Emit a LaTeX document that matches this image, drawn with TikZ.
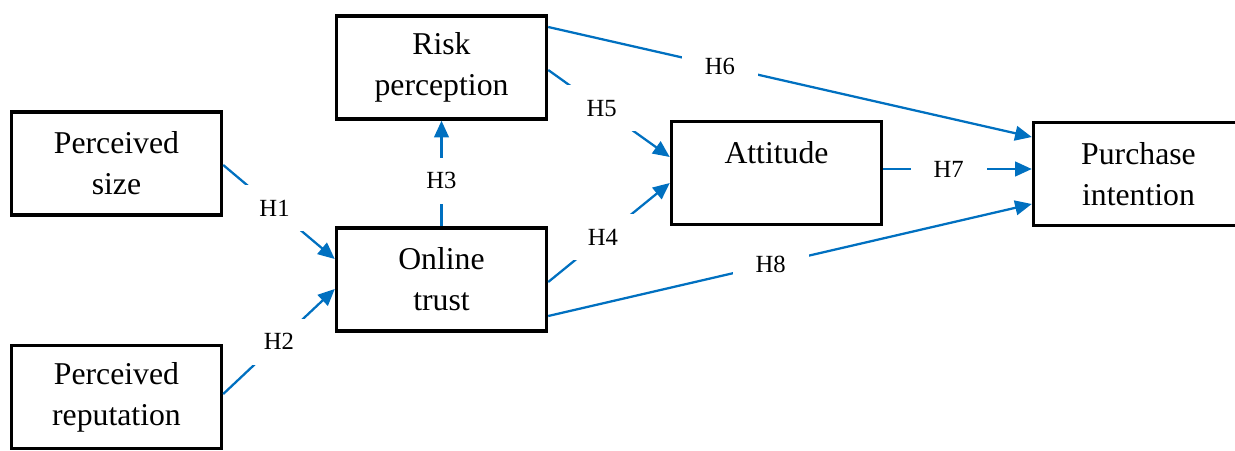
\documentclass[tikz,border=0pt]{standalone}
\usepackage{fontspec}
\setmainfont{Liberation Serif}
\usetikzlibrary{arrows.meta,calc}
\definecolor{linkblue}{RGB}{0,112,192}
\begin{document}
\begin{tikzpicture}[x=0.75pt,y=-0.75pt,
  box/.style={draw=black,line width=2.6pt,minimum width=157.5pt,minimum height=77.25pt,
    inner sep=0pt,align=center,font=\fontsize{23.8pt}{30.75pt}\selectfont},
  link/.style={draw=linkblue,line width=1.7pt,-{Triangle[length=12.5pt,width=11pt]}},
  hyp/.style={fill=white,inner sep=0pt,minimum width=57pt,minimum height=34.5pt,
    font=\fontsize{18.5pt}{20pt}\selectfont}]
\useasboundingbox (0,0) rectangle (1235,450);
\node[box] (ps) at (116.5,163.5) {Perceived\\size};
\node[box] (pr) at (116.5,397) {Perceived\\reputation};
\node[box] (ot) at (441.5,279.5) {Online\\trust};
\node[box] (rp) at (441.5,67.5) {Risk\\perception};
\node[box] (at) at (776.5,173) {Attitude\\\phantom{A}};
\node[box] (pi) at (1138.5,174) {Purchase\\intention};
\draw[link] ($(ps.east)+(0,1.5)$) -- node[hyp,pos=0.46]{H1} ($(ot.west)+(0,-20.5)$);
\draw[link] ($(pr.east)+(0,-3)$) -- node[hyp,pos=0.5]{H2} ($(ot.west)+(0,9.5)$);
\draw[link] (ot.north) -- node[hyp,pos=0.43]{H3} (rp.south);
\draw[link] ($(ot.east)+(0,2.5)$) -- node[hyp,pos=0.45]{H4} ($(at.west)+(0,10)$);
\draw[link] ($(rp.east)+(0,2.5)$) -- node[hyp,pos=0.44]{H5} ($(at.west)+(0,-16)$);
\draw[link] ($(rp.east)+(0,-40.5)$) -- node[hyp,pos=0.355]{H6} ($(pi.west)+(0,-37)$);
\draw[link] ($(at.east)+(0,-4)$) -- node[hyp,pos=0.44]{H7} ($(pi.west)+(0,-5)$);
\draw[link] ($(ot.east)+(0,36.5)$) -- node[hyp,pos=0.46]{H8} ($(pi.west)+(0,30)$);
\end{tikzpicture}
\end{document}
